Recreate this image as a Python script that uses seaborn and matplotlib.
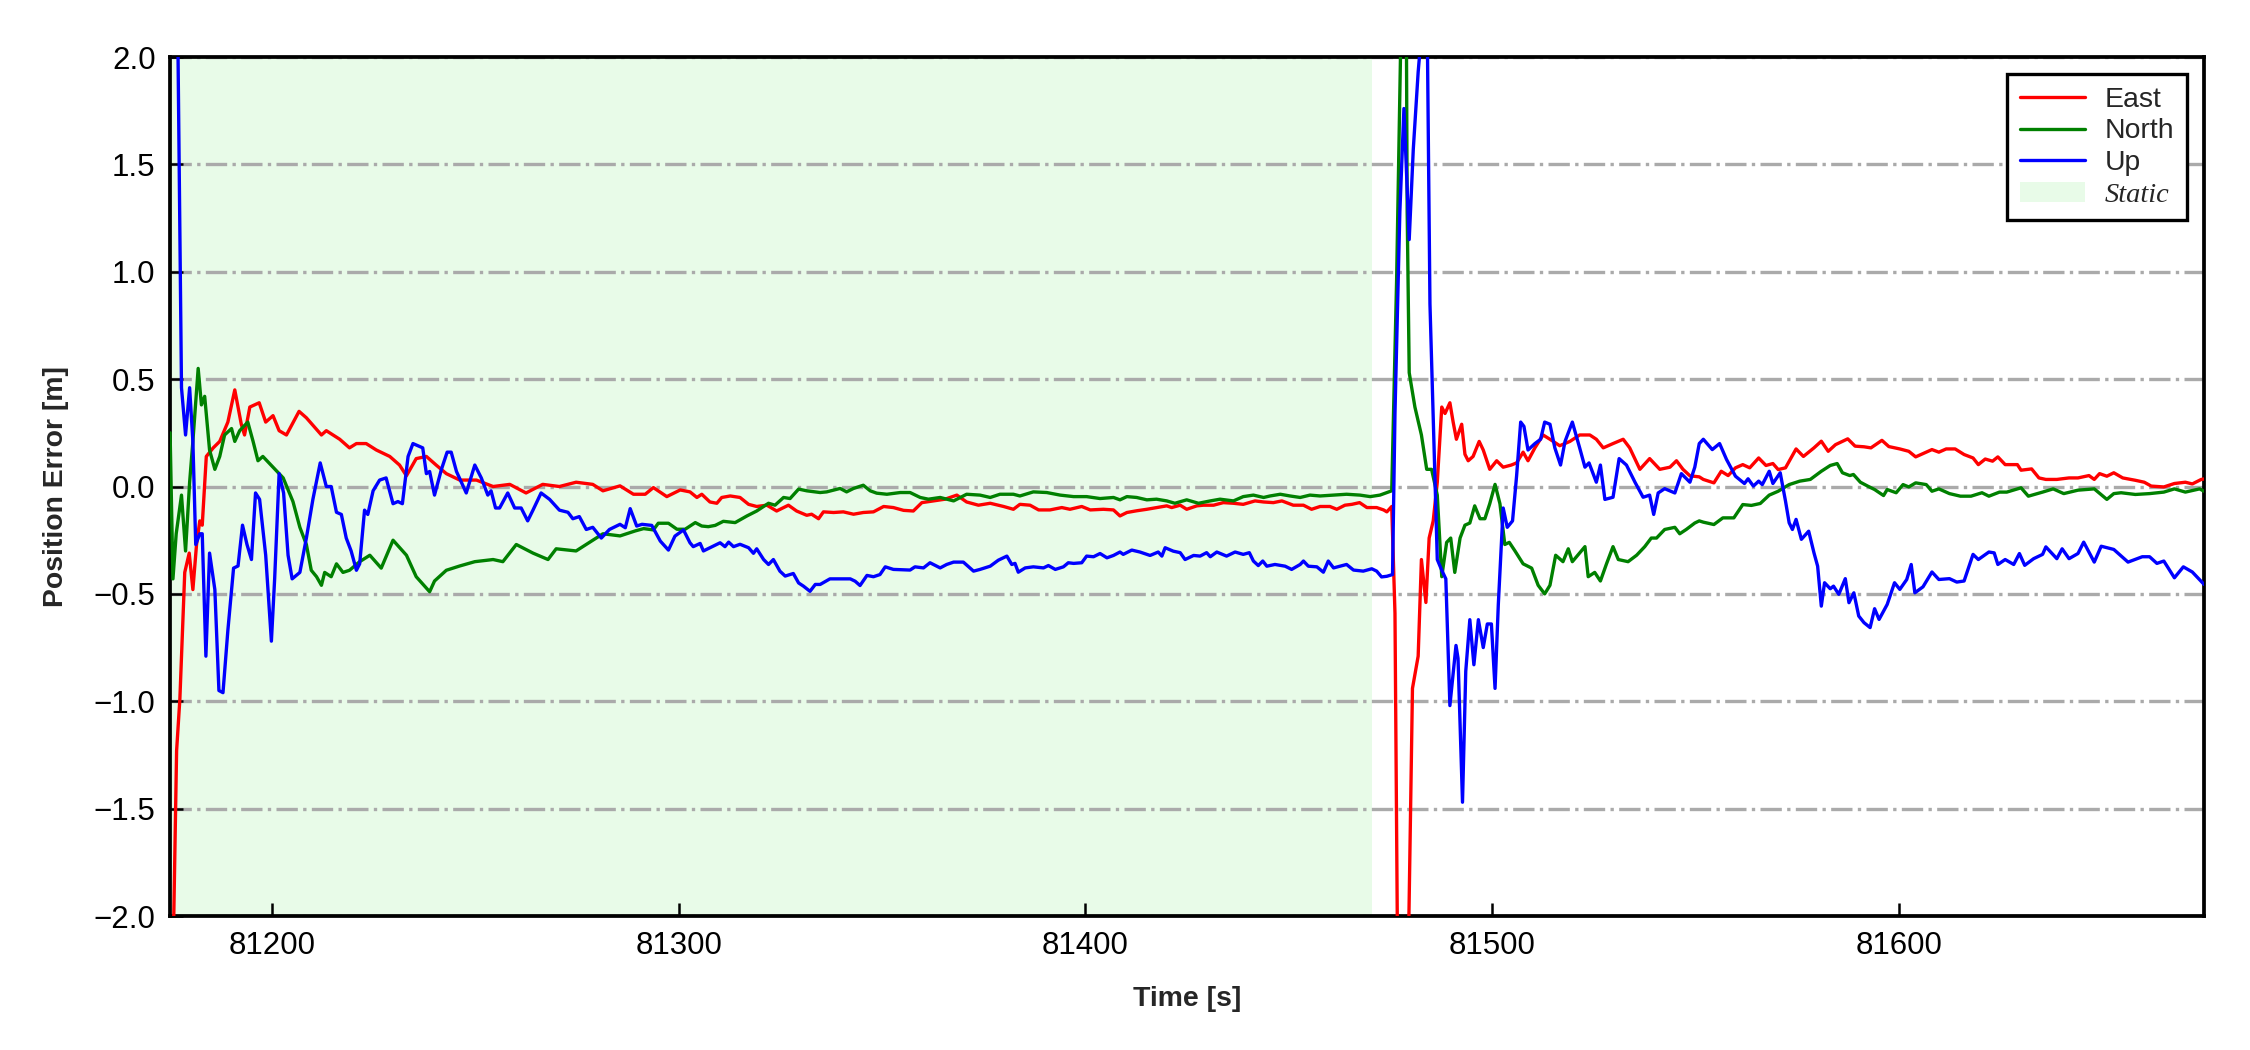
import matplotlib
matplotlib.use("Agg")
import matplotlib.pyplot as plt
from matplotlib.lines import Line2D
from matplotlib.patches import Patch
import pandas as pd
import seaborn as sns

# (time [s], error [m])
east_pts = [
    (81175.0, -3.0), (81176.6, -1.23), (81177.4, -0.99), (81178.6, -0.40), (81179.7, -0.31),
    (81180.6, -0.48), (81181.5, -0.27), (81182.3, -0.16), (81182.9, -0.18), (81183.9, 0.14),
    (81185.6, 0.18), (81187.2, 0.21), (81189.2, 0.30), (81190.9, 0.45), (81192.5, 0.29),
    (81193.3, 0.24), (81194.6, 0.37), (81196.9, 0.39), (81198.5, 0.30), (81200.3, 0.33),
    (81201.8, 0.26), (81203.6, 0.24), (81206.7, 0.35), (81208.5, 0.32), (81212.2, 0.24),
    (81213.4, 0.26), (81216.7, 0.22), (81219.1, 0.18), (81220.8, 0.20), (81223.2, 0.20),
    (81225.7, 0.17), (81229.0, 0.14), (81231.4, 0.10), (81233.1, 0.05), (81235.5, 0.13),
    (81238.0, 0.14), (81240.4, 0.10), (81242.9, 0.06), (81246.2, 0.03), (81250.3, 0.03),
    (81254.4, 0.00), (81258.5, 0.01), (81262.5, -0.03), (81266.6, 0.01), (81270.7, 0.00),
    (81274.8, 0.02), (81278.9, 0.01), (81281.4, -0.02), (81285.6, 0.003), (81288.9, -0.036),
    (81291.8, -0.036), (81293.8, -0.005), (81297.1, -0.047), (81300.4, -0.016), (81302.8, -0.025),
    (81304.5, -0.051), (81305.7, -0.036), (81307.7, -0.072), (81309.4, -0.078), (81310.6, -0.051),
    (81312.7, -0.044), (81315.1, -0.051), (81317.2, -0.083), (81319.2, -0.093), (81321.7, -0.087),
    (81324.1, -0.114), (81327.0, -0.087), (81329.0, -0.114), (81331.5, -0.134), (81332.7, -0.129),
    (81334.4, -0.150), (81335.6, -0.118), (81338.1, -0.121), (81340.5, -0.118), (81343.0, -0.129),
    (81345.4, -0.121), (81347.9, -0.118), (81350.4, -0.093), (81352.8, -0.098), (81355.3, -0.111),
    (81357.7, -0.114), (81359.8, -0.075), (81362.6, -0.067), (81365.5, -0.059), (81368.4, -0.040),
    (81370.8, -0.072), (81373.7, -0.087), (81376.6, -0.078), (81379.9, -0.093), (81382.3, -0.106),
    (81383.9, -0.083), (81386.4, -0.087), (81388.5, -0.109), (81391.3, -0.109), (81394.2, -0.098),
    (81396.2, -0.106), (81399.1, -0.093), (81401.2, -0.109), (81404.4, -0.106), (81406.9, -0.109),
    (81408.5, -0.137), (81410.2, -0.121), (81412.6, -0.113), (81415.1, -0.106), (81417.5, -0.098),
    (81420.0, -0.090), (81421.2, -0.098), (81423.3, -0.087), (81424.9, -0.106), (81427.4, -0.090),
    (81429.0, -0.087), (81431.5, -0.087), (81433.9, -0.075), (81436.4, -0.078), (81438.8, -0.083),
    (81441.7, -0.067), (81443.8, -0.072), (81446.2, -0.075), (81448.3, -0.067), (81451.1, -0.087),
    (81453.6, -0.087), (81455.6, -0.106), (81457.7, -0.093), (81460.1, -0.093), (81461.8, -0.106),
    (81463.8, -0.087), (81465.5, -0.083), (81467.4, -0.075), (81469.2, -0.098), (81471.6, -0.098),
    (81473.3, -0.109), (81474.1, -0.118), (81475.3, -0.093),
    (81476.1, -0.59), (81476.9, -2.6), (81478.2, -3.0), (81479.2, -2.4), (81480.4, -0.94),
    (81481.8, -0.79), (81482.6, -0.34), (81483.7, -0.54), (81484.5, -0.24), (81485.5, -0.16),
    (81486.5, 0.02), (81487.6, 0.37), (81488.4, 0.34), (81489.6, 0.39), (81490.4, 0.30),
    (81491.2, 0.22), (81492.5, 0.29), (81493.3, 0.15), (81494.1, 0.12), (81495.3, 0.14),
    (81496.8, 0.21), (81497.8, 0.17), (81499.4, 0.08), (81501.1, 0.12), (81502.7, 0.09),
    (81504.7, 0.10), (81506.0, 0.11), (81507.6, 0.16), (81508.8, 0.12), (81510.5, 0.18),
    (81512.5, 0.24), (81514.2, 0.22), (81516.6, 0.19), (81519.1, 0.21), (81521.5, 0.24),
    (81524.0, 0.24), (81525.6, 0.22), (81527.3, 0.18), (81529.7, 0.20), (81532.2, 0.22),
    (81533.8, 0.18), (81536.3, 0.08), (81538.7, 0.13), (81541.2, 0.08), (81543.7, 0.09),
    (81545.3, 0.12), (81546.9, 0.08), (81548.6, 0.05), (81550.9, 0.045), (81551.9, 0.033),
    (81554.5, 0.017), (81556.3, 0.071), (81558.0, 0.051), (81559.8, 0.087), (81561.6, 0.102),
    (81563.3, 0.087), (81565.5, 0.133), (81567.3, 0.098), (81569.0, 0.107), (81570.3, 0.079),
    (81572.1, 0.087), (81574.7, 0.175), (81576.5, 0.140), (81579.1, 0.180), (81580.9, 0.211),
    (81582.6, 0.164), (81584.4, 0.195), (81587.4, 0.222), (81589.2, 0.188), (81591.4, 0.185),
    (81593.1, 0.180), (81595.8, 0.215), (81597.5, 0.186), (81600.2, 0.175), (81602.4, 0.164),
    (81604.1, 0.138), (81608.1, 0.172), (81609.8, 0.160), (81611.6, 0.175), (81613.8, 0.175),
    (81616.0, 0.149), (81618.2, 0.133), (81619.5, 0.102), (81621.2, 0.128), (81623.0, 0.118),
    (81624.3, 0.138), (81626.1, 0.102), (81629.1, 0.102), (81630.0, 0.076), (81632.6, 0.082),
    (81634.4, 0.040), (81636.1, 0.033), (81638.8, 0.033), (81641.8, 0.040), (81644.0, 0.040),
    (81646.7, 0.051), (81648.0, 0.033), (81649.3, 0.060), (81651.1, 0.048), (81652.8, 0.064),
    (81655.0, 0.040), (81658.1, 0.029), (81660.3, 0.020), (81662.0, 0.002), (81665.1, -0.002),
    (81667.7, 0.014), (81670.4, 0.020), (81672.1, 0.012), (81674.3, 0.033), (81675.0, 0.035),
]

north_pts = [
    (81175.0, 0.25), (81175.7, -0.43), (81176.5, -0.22), (81177.8, -0.04), (81178.8, -0.30),
    (81179.8, 0.02), (81180.6, 0.21), (81181.9, 0.55), (81182.7, 0.38), (81183.5, 0.42),
    (81184.7, 0.17), (81186.0, 0.08), (81187.2, 0.14), (81188.4, 0.24), (81190.1, 0.27),
    (81190.9, 0.21), (81192.1, 0.26), (81194.1, 0.30), (81195.4, 0.21), (81196.6, 0.12),
    (81197.8, 0.14), (81200.3, 0.09), (81202.8, 0.04), (81205.2, -0.07), (81206.9, -0.19),
    (81208.5, -0.27), (81209.7, -0.39), (81211.0, -0.42), (81212.2, -0.46), (81213.0, -0.40),
    (81214.6, -0.42), (81215.9, -0.36), (81217.5, -0.40), (81219.1, -0.39), (81221.6, -0.35),
    (81224.1, -0.32), (81226.9, -0.38), (81229.8, -0.25), (81233.1, -0.32), (81235.5, -0.42),
    (81238.8, -0.49), (81240.0, -0.44), (81242.9, -0.39), (81246.2, -0.37), (81249.9, -0.35),
    (81254.4, -0.34), (81256.8, -0.35), (81260.1, -0.27), (81264.2, -0.31), (81267.9, -0.34),
    (81269.9, -0.29), (81274.8, -0.30), (81278.1, -0.26), (81281.4, -0.22), (81285.6, -0.230),
    (81289.3, -0.207), (81291.4, -0.196), (81293.8, -0.202), (81295.0, -0.171), (81297.5, -0.171),
    (81299.6, -0.199), (81301.6, -0.199), (81304.1, -0.168), (81305.7, -0.184), (81307.3, -0.187),
    (81309.0, -0.181), (81311.0, -0.162), (81313.9, -0.168), (81316.8, -0.137), (81319.2, -0.114),
    (81322.1, -0.078), (81323.7, -0.087), (81325.8, -0.051), (81327.4, -0.056), (81329.5, -0.012),
    (81331.5, -0.020), (81334.8, -0.028), (81336.4, -0.025), (81339.7, -0.009), (81341.3, -0.025),
    (81343.0, -0.009), (81345.4, 0.006), (81347.1, -0.020), (81348.7, -0.031), (81351.2, -0.036),
    (81354.5, -0.028), (81356.9, -0.028), (81359.4, -0.051), (81361.4, -0.059), (81364.3, -0.051),
    (81367.6, -0.067), (81370.8, -0.036), (81374.1, -0.040), (81376.6, -0.051), (81379.0, -0.036),
    (81382.3, -0.036), (81383.9, -0.044), (81387.2, -0.025), (81390.5, -0.028), (81393.8, -0.040),
    (81397.1, -0.047), (81400.3, -0.047), (81403.6, -0.056), (81406.9, -0.051), (81408.5, -0.062),
    (81410.2, -0.047), (81412.6, -0.051), (81415.1, -0.062), (81417.5, -0.059), (81420.0, -0.067),
    (81422.0, -0.078), (81424.9, -0.062), (81427.8, -0.078), (81430.7, -0.067), (81433.1, -0.059),
    (81436.4, -0.067), (81438.8, -0.047), (81441.3, -0.040), (81443.8, -0.051), (81445.4, -0.044),
    (81447.9, -0.036), (81450.3, -0.044), (81452.8, -0.051), (81455.2, -0.040), (81457.7, -0.044),
    (81461.0, -0.040), (81464.2, -0.036), (81467.5, -0.040), (81470.0, -0.047), (81472.4, -0.040),
    (81474.1, -0.028), (81475.3, -0.020),
    (81476.5, 0.96), (81478.0, 2.6), (81478.8, 2.6), (81479.1, 1.28), (81479.6, 0.53),
    (81481.0, 0.37), (81482.6, 0.24), (81483.9, 0.08), (81485.1, 0.08), (81486.5, -0.04),
    (81487.6, -0.42), (81488.8, -0.26), (81489.8, -0.24), (81490.8, -0.40), (81492.1, -0.24),
    (81493.3, -0.18), (81494.5, -0.17), (81495.7, -0.09), (81497.0, -0.15), (81498.2, -0.15),
    (81499.4, -0.08), (81500.7, 0.01), (81501.9, -0.08), (81503.1, -0.27), (81504.2, -0.26),
    (81505.6, -0.30), (81507.6, -0.36), (81509.7, -0.38), (81511.3, -0.46), (81512.9, -0.50),
    (81514.2, -0.46), (81515.6, -0.32), (81517.4, -0.35), (81518.7, -0.29), (81519.7, -0.35),
    (81522.8, -0.28), (81523.6, -0.42), (81525.2, -0.40), (81526.6, -0.44), (81528.1, -0.36),
    (81529.7, -0.28), (81531.0, -0.34), (81533.4, -0.35), (81535.5, -0.32), (81537.5, -0.28),
    (81539.1, -0.24), (81540.4, -0.24), (81542.4, -0.20), (81544.9, -0.19), (81546.1, -0.22),
    (81547.7, -0.20), (81549.8, -0.17), (81550.9, -0.16), (81551.9, -0.166), (81554.5, -0.177),
    (81556.7, -0.146), (81559.4, -0.146), (81561.6, -0.084), (81563.7, -0.088), (81565.9, -0.079),
    (81568.1, -0.040), (81570.3, -0.022), (81573.0, 0.009), (81575.6, 0.025), (81578.2, 0.033),
    (81580.9, 0.071), (81583.1, 0.098), (81584.8, 0.107), (81586.1, 0.064), (81587.9, 0.051),
    (81588.8, 0.056), (81590.5, 0.020), (81592.3, 0.002), (81594.0, -0.014), (81596.2, -0.042),
    (81597.1, -0.014), (81599.3, -0.029), (81601.0, 0.009), (81602.4, -0.002), (81604.1, 0.017),
    (81606.7, 0.009), (81608.1, -0.022), (81609.8, -0.011), (81612.4, -0.033), (81615.1, -0.045),
    (81617.7, -0.045), (81620.4, -0.029), (81622.1, -0.045), (81624.7, -0.026), (81626.5, -0.026),
    (81630.0, -0.006), (81631.8, -0.045), (81635.3, -0.026), (81637.9, -0.011), (81640.5, -0.033),
    (81644.0, -0.017), (81648.0, -0.011), (81651.1, -0.060), (81652.8, -0.033), (81654.6, -0.029),
    (81658.1, -0.037), (81661.6, -0.033), (81665.1, -0.026), (81667.7, -0.011), (81670.4, -0.026),
    (81673.9, -0.011), (81675.0, -0.022),
]

up_pts = [
    (81175.0, 4.0), (81176.9, 2.1), (81177.5, 1.01), (81177.8, 0.46), (81178.8, 0.24),
    (81179.8, 0.46), (81180.6, 0.21), (81181.3, -0.27), (81182.3, -0.22), (81182.9, -0.22),
    (81183.8, -0.79), (81184.7, -0.31), (81186.0, -0.48), (81187.0, -0.95), (81188.0, -0.96),
    (81189.2, -0.67), (81190.6, -0.38), (81191.7, -0.37), (81192.8, -0.18), (81193.9, -0.27),
    (81195.0, -0.34), (81196.0, -0.03), (81197.0, -0.06), (81198.5, -0.32), (81199.9, -0.72),
    (81200.7, -0.43), (81201.8, 0.06), (81202.9, -0.03), (81204.0, -0.32), (81205.0, -0.43),
    (81206.9, -0.40), (81208.5, -0.24), (81210.1, -0.06), (81211.9, 0.11), (81213.4, 0.00),
    (81214.6, 0.00), (81215.9, -0.12), (81217.1, -0.13), (81218.3, -0.24), (81219.5, -0.30),
    (81220.8, -0.39), (81221.6, -0.36), (81222.8, -0.11), (81223.6, -0.13), (81224.9, -0.02),
    (81226.5, 0.03), (81228.1, 0.04), (81229.8, -0.08), (81231.0, -0.07), (81232.1, -0.08),
    (81233.5, 0.14), (81234.7, 0.20), (81237.1, 0.18), (81238.0, 0.06), (81238.8, 0.07),
    (81240.0, -0.04), (81241.7, 0.08), (81243.1, 0.16), (81244.1, 0.16), (81245.4, 0.07),
    (81247.8, -0.03), (81249.9, 0.10), (81251.5, 0.04), (81253.1, -0.04), (81253.9, -0.02),
    (81255.0, -0.10), (81256.0, -0.10), (81258.0, -0.03), (81259.7, -0.10), (81261.3, -0.10),
    (81262.9, -0.16), (81264.2, -0.11), (81266.2, -0.03), (81268.3, -0.06), (81270.7, -0.11),
    (81272.8, -0.12), (81274.0, -0.15), (81275.6, -0.14), (81277.3, -0.20), (81278.9, -0.19),
    (81281.0, -0.24), (81283.0, -0.20), (81285.6, -0.176), (81286.9, -0.192), (81288.1, -0.103),
    (81289.7, -0.184), (81291.0, -0.176), (81293.4, -0.181), (81295.5, -0.254), (81297.5, -0.296),
    (81299.1, -0.231), (81301.2, -0.202), (81302.8, -0.262), (81303.6, -0.280), (81305.3, -0.265),
    (81306.1, -0.300), (81307.7, -0.285), (81310.2, -0.262), (81311.4, -0.280), (81312.3, -0.259),
    (81313.5, -0.280), (81315.1, -0.269), (81317.2, -0.285), (81318.4, -0.311), (81319.2, -0.290),
    (81320.9, -0.340), (81322.1, -0.363), (81323.3, -0.340), (81324.9, -0.394), (81326.2, -0.417),
    (81328.2, -0.405), (81329.5, -0.449), (81330.7, -0.464), (81332.3, -0.488), (81333.6, -0.456),
    (81334.8, -0.456), (81337.2, -0.430), (81340.1, -0.430), (81342.2, -0.430), (81343.4, -0.441),
    (81344.6, -0.461), (81346.3, -0.414), (81347.9, -0.420), (81349.5, -0.410), (81350.8, -0.374),
    (81352.8, -0.386), (81356.9, -0.389), (81358.1, -0.374), (81360.2, -0.379), (81361.8, -0.355),
    (81364.3, -0.379), (81365.9, -0.363), (81367.6, -0.352), (81370.0, -0.352), (81372.5, -0.394),
    (81374.1, -0.386), (81376.6, -0.371), (81378.6, -0.343), (81380.7, -0.324), (81381.9, -0.363),
    (81382.7, -0.358), (81383.5, -0.399), (81385.2, -0.379), (81387.2, -0.374), (81389.7, -0.379),
    (81390.9, -0.368), (81392.6, -0.386), (81394.6, -0.374), (81395.8, -0.355), (81397.1, -0.358),
    (81399.1, -0.355), (81400.3, -0.324), (81402.0, -0.327), (81403.6, -0.312), (81405.3, -0.332),
    (81406.9, -0.321), (81408.5, -0.305), (81409.3, -0.316), (81411.4, -0.296), (81413.4, -0.305),
    (81415.9, -0.321), (81417.9, -0.305), (81418.8, -0.324), (81419.6, -0.285), (81421.6, -0.301),
    (81423.3, -0.308), (81424.5, -0.340), (81426.6, -0.321), (81428.2, -0.324), (81429.8, -0.308),
    (81430.7, -0.327), (81432.3, -0.305), (81434.7, -0.324), (81436.8, -0.305), (81438.8, -0.316),
    (81440.3, -0.308), (81441.3, -0.347), (81442.5, -0.368), (81443.6, -0.347), (81444.6, -0.371),
    (81446.6, -0.363), (81449.1, -0.371), (81450.7, -0.386), (81452.8, -0.363), (81453.6, -0.347),
    (81454.8, -0.371), (81456.9, -0.374), (81458.5, -0.399), (81459.7, -0.347), (81461.0, -0.379),
    (81464.2, -0.363), (81465.9, -0.389), (81468.3, -0.394), (81470.4, -0.383), (81471.6, -0.394),
    (81472.8, -0.421), (81474.1, -0.418), (81475.5, -0.410),
    (81476.1, 0.34), (81477.3, 1.28), (81478.3, 1.76), (81479.6, 1.15), (81480.6, 1.57),
    (81481.8, 1.93), (81483.0, 2.2), (81484.0, 2.2), (81484.7, 0.85), (81485.9, 0.05),
    (81486.5, -0.34), (81487.6, -0.39), (81488.6, -0.43), (81489.6, -1.02), (81491.1, -0.74),
    (81491.6, -0.80), (81492.7, -1.47), (81493.5, -0.86), (81494.5, -0.62), (81495.5, -0.83),
    (81496.6, -0.62), (81497.8, -0.75), (81498.8, -0.64), (81499.8, -0.64), (81500.7, -0.94),
    (81501.5, -0.55), (81502.7, -0.10), (81503.7, -0.19), (81505.0, -0.16), (81506.0, 0.05),
    (81507.0, 0.30), (81507.8, 0.28), (81508.8, 0.17), (81510.5, 0.20), (81511.9, 0.22),
    (81512.9, 0.30), (81514.2, 0.29), (81515.4, 0.18), (81516.8, 0.10), (81517.9, 0.21),
    (81519.7, 0.30), (81521.5, 0.18), (81522.8, 0.09), (81523.8, 0.11), (81525.6, 0.02),
    (81526.6, 0.10), (81527.7, -0.06), (81529.7, -0.05), (81531.2, 0.13), (81533.0, 0.10),
    (81535.1, 0.02), (81537.1, -0.05), (81538.7, -0.04), (81539.7, -0.13), (81540.8, -0.03),
    (81542.4, -0.01), (81544.9, -0.03), (81546.5, 0.06), (81548.6, 0.02), (81549.8, 0.09),
    (81550.9, 0.20), (81551.9, 0.220), (81554.1, 0.172), (81555.9, 0.200), (81557.6, 0.126),
    (81559.8, 0.048), (81562.0, 0.014), (81562.9, 0.036), (81564.2, 0.002), (81565.5, 0.025),
    (81566.4, 0.009), (81568.1, 0.071), (81569.0, 0.014), (81570.8, 0.064), (81572.1, -0.068),
    (81573.0, -0.169), (81573.8, -0.200), (81574.7, -0.153), (81576.0, -0.246), (81577.8, -0.208),
    (81579.1, -0.309), (81580.0, -0.371), (81580.9, -0.557), (81581.7, -0.448), (81583.1, -0.476),
    (81583.9, -0.464), (81585.2, -0.502), (81586.8, -0.429), (81587.7, -0.541), (81588.9, -0.495),
    (81590.1, -0.603), (81591.4, -0.634), (81592.9, -0.657), (81594.0, -0.569), (81595.1, -0.619),
    (81597.1, -0.549), (81598.9, -0.448), (81600.2, -0.479), (81601.9, -0.433), (81603.0, -0.363),
    (81603.9, -0.495), (81605.9, -0.467), (81608.1, -0.398), (81609.8, -0.433), (81612.4, -0.429),
    (81614.2, -0.445), (81616.0, -0.440), (81618.2, -0.316), (81619.5, -0.340), (81622.1, -0.305),
    (81623.4, -0.309), (81624.3, -0.363), (81626.1, -0.340), (81628.2, -0.363), (81629.6, -0.312),
    (81630.9, -0.367), (81633.1, -0.336), (81635.3, -0.316), (81636.1, -0.281), (81638.8, -0.336),
    (81640.1, -0.290), (81641.8, -0.336), (81644.0, -0.312), (81645.4, -0.259), (81648.0, -0.352),
    (81649.7, -0.278), (81652.8, -0.293), (81656.3, -0.352), (81659.8, -0.327), (81661.6, -0.327),
    (81663.4, -0.358), (81665.1, -0.347), (81667.7, -0.425), (81669.9, -0.374), (81672.1, -0.398),
    (81675.0, -0.456),
]

series_names = ["East", "North", "Up"]
series_colors = ["red", "green", "blue"]
static_start, static_end = 81175.0, 81470.5
y_ticks = [-2.0, -1.5, -1.0, -0.5, 0.0, 0.5, 1.0, 1.5, 2.0]
x_ticks = [81200, 81300, 81400, 81500, 81600]

frames = []
for name, pts in zip(series_names, [east_pts, north_pts, up_pts]):
    t, v = zip(*pts)
    frames.append(pd.DataFrame({"Time": t, "Error": v, "Axis": name}))
df = pd.concat(frames, ignore_index=True)

sns.set_style("ticks")
plt.rcParams["font.family"] = ["Liberation Sans", "DejaVu Sans"]

fig = plt.figure(figsize=(7.5, 3.5), dpi=300)
ax = fig.add_axes([0.0756, 0.1276, 0.904, 0.8181])

# static period shading
ax.axvspan(static_start, static_end, color="#e8fbe8", lw=0, zorder=0)

sns.lineplot(
    data=df, x="Time", y="Error", hue="Axis",
    palette=dict(zip(series_names, series_colors)),
    estimator=None, linewidth=0.8, legend=False, ax=ax, zorder=3,
)

ax.set_xlim(81175, 81675)
ax.set_ylim(-2, 2)
ax.set_yticks(y_ticks)
ax.set_xticks(x_ticks)
ax.yaxis.grid(True, linestyle="-.", color="#aaaaaa", linewidth=0.8)
ax.xaxis.grid(False)
ax.set_axisbelow(True)

ax.tick_params(direction="in", length=3.2, width=0.6, labelsize=7.5, colors="black")
for s in ax.spines.values():
    s.set_linewidth(0.9)
    s.set_color("black")

ax.set_xlabel("Time [s]", fontsize=6.8, fontweight="bold", labelpad=6)
ax.set_ylabel("Position Error [m]", fontsize=6.8, fontweight="bold", labelpad=6)

handles = [Line2D([0], [0], color=c, lw=0.8) for c in series_colors]
handles.append(Patch(facecolor="#e8fbe8", edgecolor="none"))
leg = ax.legend(
    handles, series_names + ["Static"], loc="upper right",
    fontsize=6.8, fancybox=False, edgecolor="black", framealpha=1,
    handlelength=2.3, labelspacing=0.2, borderpad=0.45, handletextpad=0.7,
    borderaxespad=0.6,
)
leg.get_frame().set_linewidth(0.8)
leg.get_texts()[3].set_fontfamily("Liberation Serif")
leg.get_texts()[3].set_fontstyle("italic")

fig.savefig("out.png", dpi=300)
